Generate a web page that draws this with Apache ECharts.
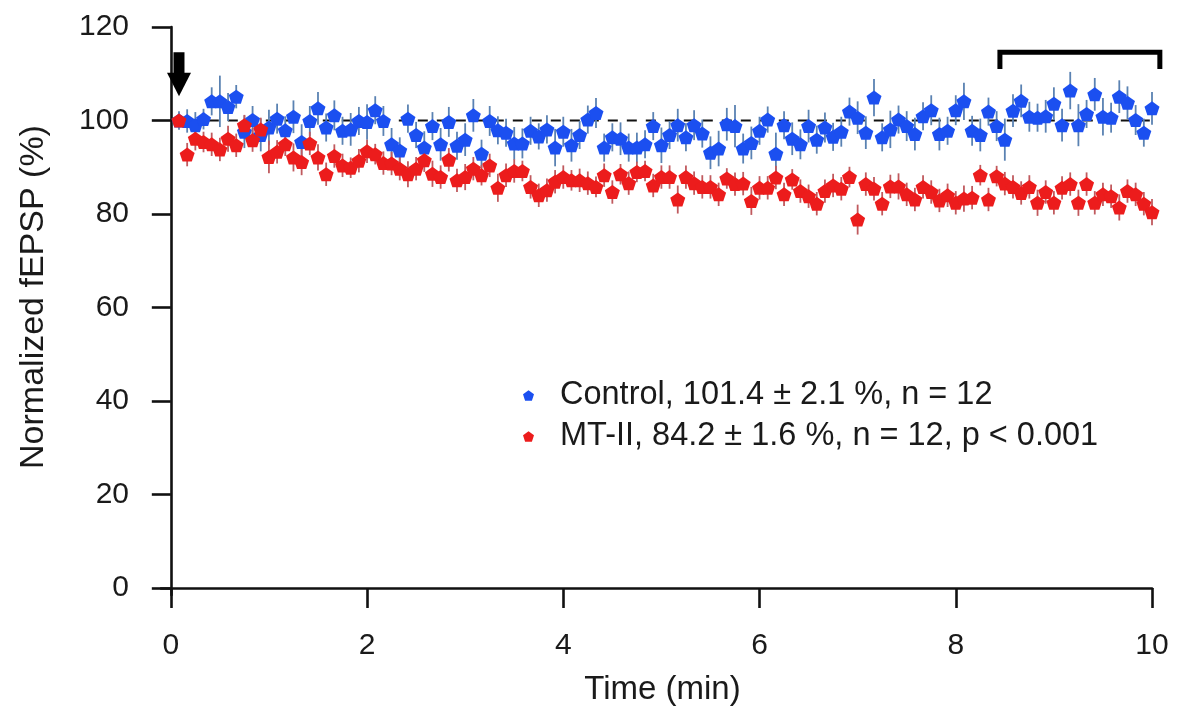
<!DOCTYPE html>
<html><head><meta charset="utf-8">
<script src="https://cdn.jsdelivr.net/npm/echarts@6/dist/echarts.min.js"></script>
<style>html,body{margin:0;padding:0;background:#fff}#c{width:1178px;height:713px}</style>
</head><body><div id="c"></div>
<script>
// sampling times (seconds)
const timeSec = [5,10,15,20,25,30,35,40,45,50,55,60,65,70,75,80,85,90,95,100,
105,110,115,120,125,130,135,140,145,150,155,160,165,170,175,180,185,190,195,200,
205,210,215,220,225,230,235,240,245,250,255,260,265,270,275,280,285,290,295,300,
305,310,315,320,325,330,335,340,345,350,355,360,365,370,375,380,385,390,395,400,
405,410,415,420,425,430,435,440,445,450,455,460,465,470,475,480,485,490,495,500,
505,510,515,520,525,530,535,540,545,550,555,560,565,570,575,580,585,590,595,600];

const controlMean = [100.0,99.9,99.0,100.3,104.1,104.1,102.9,105.1,97.6,100.1,
96.9,98.5,100.4,97.9,100.8,95.4,99.9,102.6,98.5,101.1,
97.8,98.1,99.9,99.7,102.2,99.9,94.9,93.6,100.4,96.9,
94.2,98.8,94.9,99.7,94.6,95.9,101.1,92.9,99.9,97.9,
97.4,95.1,95.1,97.8,96.6,98.1,94.2,97.6,94.7,96.9,
100.2,101.6,94.2,96.4,96.1,94.2,94.2,94.9,98.8,94.7,
96.9,99.0,96.4,99.0,97.2,93.1,94.0,99.2,98.8,94.0,
95.2,97.8,100.2,92.9,99.0,96.1,94.9,98.8,95.9,98.5,
96.5,97.6,101.9,100.6,97.4,104.9,96.4,98.1,100.2,98.8,
97.1,100.9,102.2,97.1,97.8,102.2,104.1,97.8,96.9,101.9,
98.8,95.9,102.1,104.2,100.8,100.6,100.9,103.6,99.0,106.4,
99.0,101.4,105.6,100.8,100.6,105.1,103.8,100.1,97.4,102.6];
const controlSem = [2.0,2.5,2.8,2.2,3.0,5.5,3.0,2.5,3.5,3.0,
3.5,3.8,3.2,3.0,3.5,3.8,3.2,3.5,3.0,3.2,
3.0,3.5,3.0,3.8,3.0,3.2,3.5,2.8,3.0,2.8,
3.5,3.0,3.5,3.2,3.0,3.5,3.5,3.0,3.2,3.0,
3.0,3.5,3.2,3.0,2.8,3.0,4.0,3.2,3.5,3.0,
3.0,3.2,3.0,3.0,3.5,3.0,3.2,3.0,3.0,3.8,
3.0,3.5,3.0,3.2,3.0,3.5,3.8,3.5,4.5,3.2,
3.5,3.0,2.8,4.5,3.0,3.5,3.2,3.5,3.0,3.2,
3.0,3.2,3.0,3.5,3.5,4.0,3.0,4.0,3.0,3.2,
3.5,3.0,3.2,3.5,3.0,3.2,4.0,3.2,3.5,3.0,
3.2,4.5,3.5,3.5,3.2,3.0,3.5,3.5,3.5,4.0,
4.5,3.0,3.5,4.0,3.2,3.5,3.5,3.2,3.0,3.5];

const mt2Mean = [100.0,92.7,96.1,95.4,94.9,93.8,96.1,94.7,99.0,95.8,
98.1,92.2,93.3,94.9,92.1,91.1,95.1,92.1,88.5,92.4,
90.4,89.9,91.4,93.4,92.8,90.9,90.8,89.7,88.5,89.7,
91.5,88.6,87.9,91.6,87.2,87.9,89.7,88.3,90.4,85.6,
88.3,89.2,89.2,85.8,84.0,85.1,86.9,87.9,87.2,87.2,
86.6,85.8,88.3,84.7,88.5,86.6,89.0,89.2,86.1,87.9,
87.9,83.1,87.9,86.6,85.8,85.8,84.2,87.6,86.4,86.5,
82.8,85.6,85.6,87.8,84.2,87.4,84.9,83.8,82.2,84.9,
86.1,85.4,87.9,78.8,86.4,85.4,82.2,85.9,85.9,84.2,
83.1,85.8,84.7,82.9,84.0,82.4,83.3,83.5,88.3,83.1,
88.1,86.5,85.8,84.5,85.8,82.4,84.7,82.4,85.6,86.4,
82.4,86.4,82.4,84.2,83.8,81.4,84.9,84.2,82.2,80.4];
const mt2Sem = [1.0,2.5,2.5,2.2,2.5,2.5,2.8,2.5,2.2,2.5,
2.5,3.5,2.5,2.5,3.0,2.8,2.5,2.8,2.5,2.5,
2.5,2.2,2.5,2.5,2.2,2.5,2.5,2.5,2.8,2.5,
2.5,2.8,2.5,2.5,2.5,2.8,2.5,2.2,2.5,3.0,
2.5,2.5,2.2,2.5,2.5,2.5,2.5,2.5,2.2,2.5,
2.5,2.2,2.5,2.5,2.2,2.5,2.2,2.2,2.5,2.5,
2.5,3.0,2.5,2.5,2.5,2.5,2.5,2.2,2.5,2.5,
3.0,2.5,2.5,2.5,2.5,2.2,2.5,2.5,2.5,2.5,
2.5,2.5,2.2,3.2,2.5,2.5,2.5,2.5,2.8,2.5,
2.5,2.5,2.5,2.5,2.5,2.5,2.8,2.5,2.2,2.5,
2.2,2.5,2.5,2.5,2.5,2.8,2.5,2.5,2.5,2.5,
2.8,2.5,2.5,2.5,2.5,2.8,2.5,2.5,2.5,2.8];

const xTicks = [0,2,4,6,8,10];
const yTicks = [0,20,40,60,80,100,120];
const seriesNames = ['Control, 101.4 ± 2.1 %, n = 12', 'MT-II, 84.2 ± 1.6 %, n = 12, p < 0.001'];
const baselineLine = [[0,100],[10,100]];
const bracketMin = [8.45, 10.08];     // time range (min) marked by bracket
const arrowTimeMin = 1/12;            // time of application marker (min)

const FONT = 'Liberation Sans, Arial, sans-serif';
const BLUE = '#1b4ff0', RED = '#ec1c1c';
const BLUE_BAR = '#5a82b2', RED_BAR = '#c05a5e';
const PENTA = 'path://M50,0 L100,36.3 L80.9,95.1 L19.1,95.1 L0,36.3 Z';

const tMin = timeSec.map(s => s / 60);
function errData(mean, sem){ return tMin.map((t,i)=>[t, mean[i]-sem[i], mean[i]+sem[i]]); }
function errSeries(name, mean, sem, color){
  return {
    type:'custom', name: name, silent:true, z:2,
    data: errData(mean, sem),
    renderItem: function(params, api){
      const a = api.coord([api.value(0), api.value(1)]);
      const b = api.coord([api.value(0), api.value(2)]);
      return {type:'line', shape:{x1:a[0],y1:a[1],x2:b[0],y2:b[1]}, style:{stroke:color, lineWidth:1.8}};
    }
  };
}

const chart = echarts.init(document.getElementById('c'), null, {renderer:'canvas'});
const axisLine = {show:true, lineStyle:{color:'#111', width:2.6}};
chart.setOption({
  animation:false,
  backgroundColor:'#fff',
  grid:{left:161, right:26, top:27, bottom:118, containLabel:false},
  xAxis:{
    type:'value', min:-0.1, max:10,
    axisLine: axisLine,
    axisTick:{show:true, length:20, lineStyle:{color:'#111', width:2.6}, customValues:xTicks},
    axisLabel:{fontSize:30, color:'#1a1a1a', fontFamily:FONT, margin:36, customValues:xTicks},
    splitLine:{show:false},
    name:'Time (min)', nameLocation:'middle', nameGap:78,
    nameTextStyle:{fontSize:33, color:'#1a1a1a', fontFamily:FONT, padding:[0,0,0,12]}
  },
  yAxis:{
    type:'value', min:-1.5, max:120,
    axisLine: axisLine,
    axisTick:{show:true, length:19, lineStyle:{color:'#111', width:2.6}, customValues:yTicks},
    axisLabel:{fontSize:30, color:'#1a1a1a', fontFamily:FONT, margin:32, customValues:yTicks},
    splitLine:{show:false},
    name:'Normalized fEPSP (%)', nameLocation:'middle', nameGap:110,
    nameTextStyle:{fontSize:34, color:'#1a1a1a', fontFamily:FONT, padding:[0,0,0,28]}
  },
  legend:{
    data:[{name:seriesNames[0], icon:PENTA},{name:seriesNames[1], icon:PENTA}],
    orient:'vertical', left:518, top:374, itemWidth:11, itemHeight:11, itemGap:8,
    textStyle:{fontSize:32.5, color:'#1a1a1a', fontFamily:FONT, padding:[0,0,0,21]},
    selectedMode:false
  },
  series:[
    {type:'line', data:baselineLine, symbol:'none', silent:true, z:1,
     lineStyle:{color:'#111', width:2.2, type:[10,9]}},
    errSeries('ctrlErr', controlMean, controlSem, BLUE_BAR),
    {type:'scatter', name:seriesNames[0], symbol:PENTA, symbolSize:[15,14], z:3,
     itemStyle:{color:BLUE, opacity:1}, data: tMin.map((t,i)=>[t, controlMean[i]])},
    errSeries('mtErr', mt2Mean, mt2Sem, RED_BAR),
    {type:'scatter', name:seriesNames[1], symbol:PENTA, symbolSize:[15,14], z:4,
     itemStyle:{color:RED, opacity:1}, data: tMin.map((t,i)=>[t, mt2Mean[i]])}
  ]
});

// annotations: arrow and bracket positioned in data coordinates
function px(p){ return chart.convertToPixel({gridIndex:0}, p); }
const aTop = px([arrowTimeMin, 114.6]), aBase = px([arrowTimeMin, 110.2]), aTip = px([arrowTimeMin, 105.2]);
const bL = px([bracketMin[0], 114.6]), bR = px([bracketMin[1], 114.6]);
const bLd = px([bracketMin[0], 111.0]), bRd = px([bracketMin[1], 111.0]);
chart.setOption({
  graphic:[
    {type:'rect', shape:{x:aTop[0]-5.5, y:aTop[1], width:11, height:aBase[1]-aTop[1]+1}, style:{fill:'#000'}, z:10},
    {type:'polygon', shape:{points:[[aBase[0]-12,aBase[1]],[aBase[0]+12,aBase[1]],[aTip[0],aTip[1]]]}, style:{fill:'#000'}, z:10},
    {type:'polyline', shape:{points:[[bLd[0],bLd[1]],[bL[0],bL[1]],[bR[0],bR[1]],[bRd[0],bRd[1]]]},
     style:{stroke:'#000', lineWidth:5, fill:null, lineJoin:'miter'}, z:10}
  ]
});
</script></body></html>
